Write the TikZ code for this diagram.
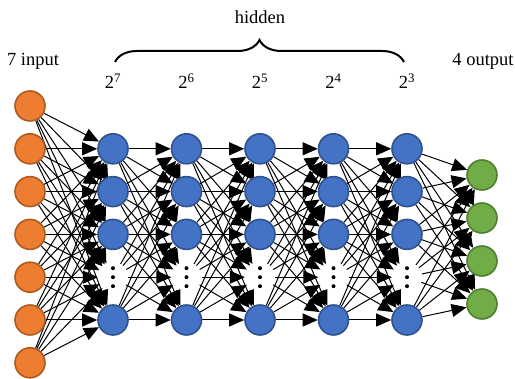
\documentclass[tikz,border=0pt]{standalone}
\usepackage{fontspec}
\setmainfont{Liberation Serif}
\usetikzlibrary{arrows.meta,decorations.pathreplacing,backgrounds}

\definecolor{inFill}{HTML}{ED7D31}
\definecolor{inLine}{HTML}{AE5A21}
\definecolor{hidFill}{HTML}{4472C4}
\definecolor{hidLine}{HTML}{2F528F}
\definecolor{outFill}{HTML}{70AD47}
\definecolor{outLine}{HTML}{507E32}

\tikzset{
  neuron/.style={circle, minimum size=30pt, inner sep=0pt, line width=1.6pt},
  inneuron/.style={neuron, draw=inLine, fill=inFill},
  hidneuron/.style={neuron, draw=hidLine, fill=hidFill},
  outneuron/.style={neuron, draw=outLine, fill=outFill},
  gapneuron/.style={circle, minimum size=30pt, inner sep=0pt},
  wire/.style={line width=1pt, -{Triangle[length=15pt,width=13pt]}},
  label/.style={font=\fontsize{18.5}{21}\selectfont, inner sep=0pt},
}

\begin{document}
\begin{tikzpicture}[x=1pt, y=-1pt]
  \useasboundingbox (0,0) rectangle (515,379);

  % input layer
  \foreach \i in {1,...,7}
    \node[inneuron] (in\i) at (30, {106 + 42.8*(\i-1)}) {};

  % hidden layers: four neurons plus an elided row
  \foreach \L/\x in {1/113, 2/186.5, 3/260, 4/333.5, 5/407} {
    \foreach \r in {1,2,3,5}
      \node[hidneuron] (h\L\r) at (\x, {148.8 + 42.8*(\r-1)}) {};
    \node[gapneuron] (h\L4) at (\x, {148.8 + 42.8*3}) {};
    \foreach \d in {-9,0,9}
      \fill ([yshift=\d pt]h\L4.center) circle (2pt);
  }

  % output layer
  \foreach \o/\y in {1/175, 2/218, 3/261, 4/304}
    \node[outneuron] (out\o) at (482, \y) {};

  % connections
  \begin{pgfonlayer}{background}
    \foreach \i in {1,...,7}
      \foreach \s in {1,...,5}
        \draw[wire] (in\i) -- (h1\s);
    \foreach \L/\N in {1/2, 2/3, 3/4, 4/5}
      \foreach \r in {1,...,5}
        \foreach \s in {1,...,5}
          \draw[wire] (h\L\r) -- (h\N\s);
    \foreach \r in {1,...,5}
      \foreach \s in {1,...,4}
        \draw[wire] (h5\r) -- (out\s);
  \end{pgfonlayer}

  % layer labels
  \node[label] (inlabel) at (33, 61) {7 input};
  \node[label] (outlabel) at (483, 61) {4 output};
  \node[label] (hidlabel) at (260, 17) {hidden};
  \foreach \L/\x/\e in {1/113/7, 2/186.5/6, 3/260/5, 4/333.5/4, 5/407/3}
    \node[label] (size\L) at (\x, 81) {2\textsuperscript{\e}};

  % brace over the hidden layers
  \coordinate (braceL) at (115, 62);
  \coordinate (braceR) at (404, 62);
  \draw[line width=2pt, decorate, decoration={brace, amplitude=22pt}] (braceL) -- (braceR);
\end{tikzpicture}
\end{document}
